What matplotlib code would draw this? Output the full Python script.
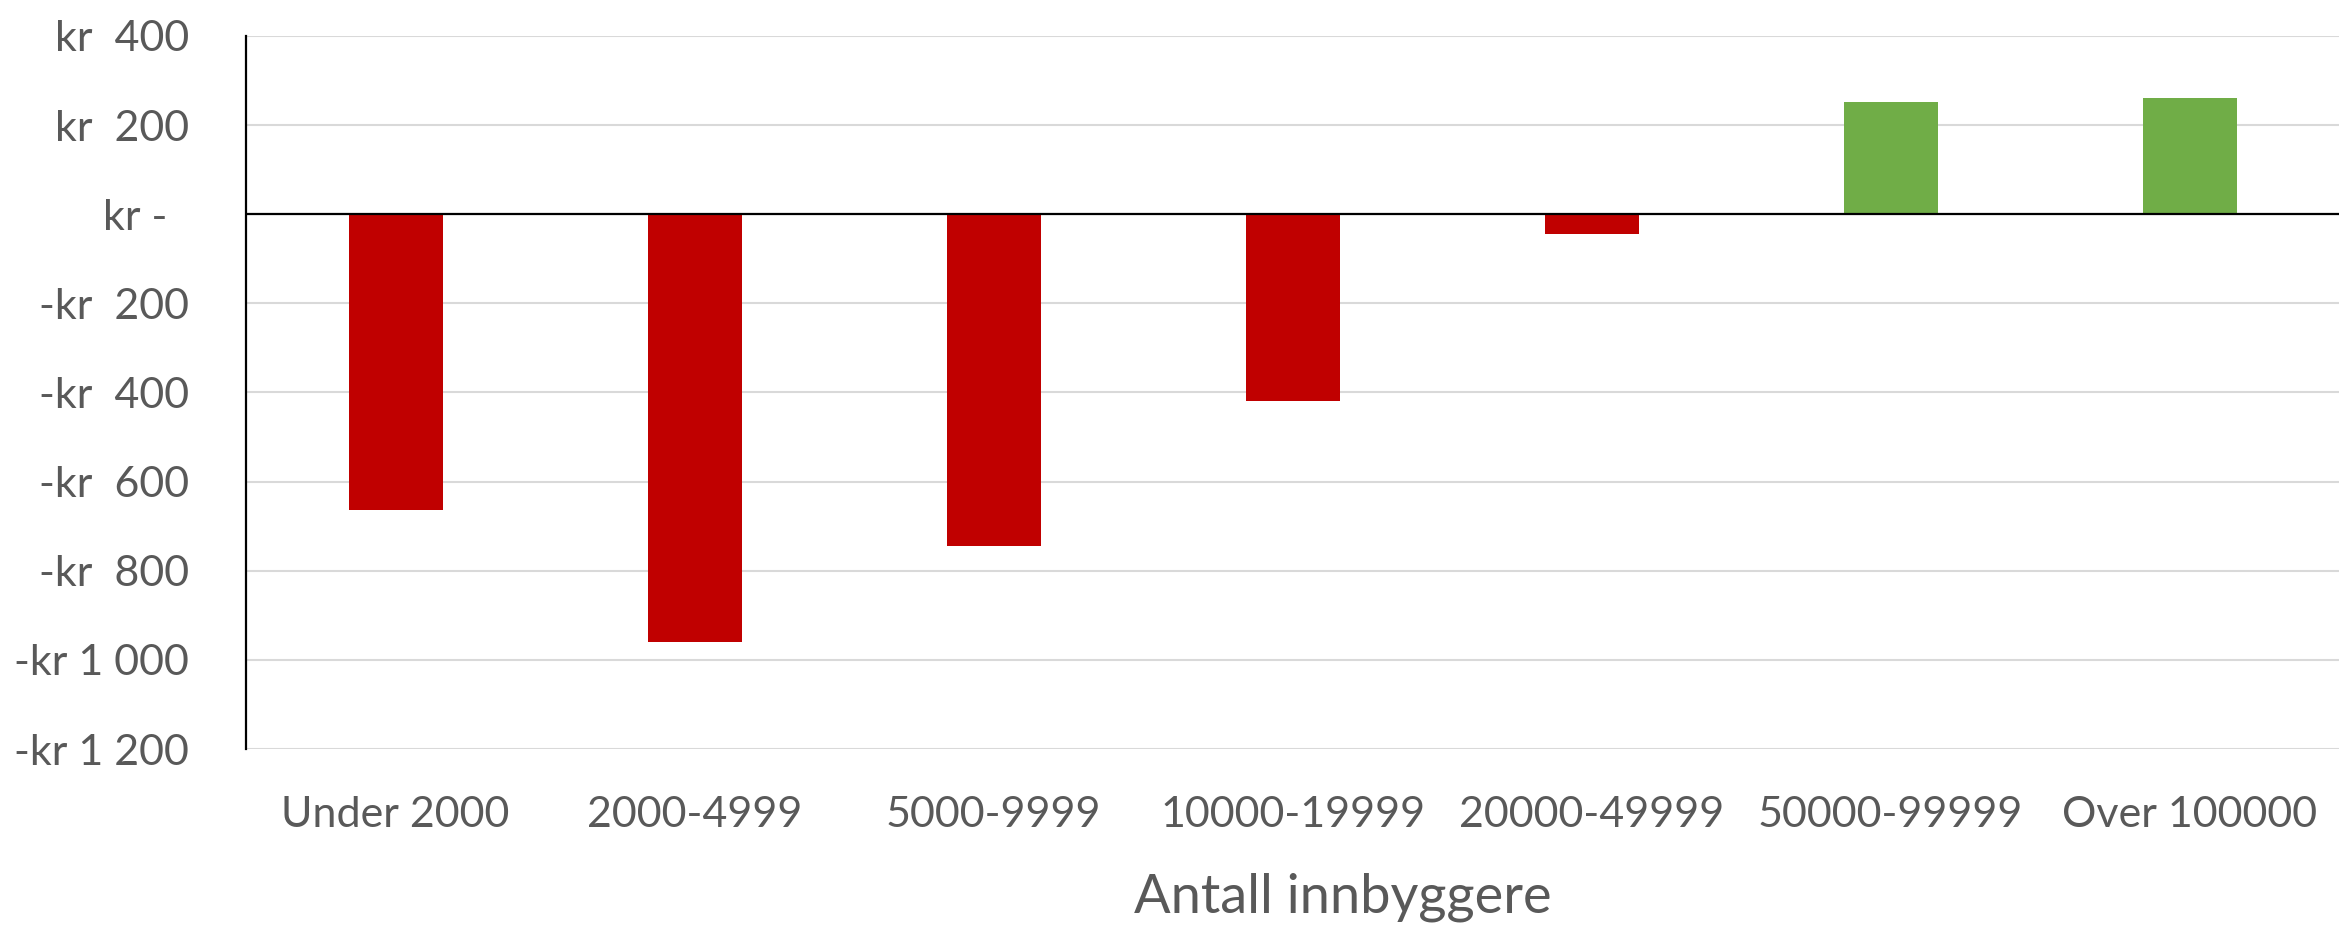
import matplotlib.pyplot as plt
from matplotlib.ticker import FixedLocator, FixedFormatter

# Data
categories = ["Under 2000", "2000-4999", "5000-9999", "10000-19999",
              "20000-49999", "50000-99999", "Over 100000"]
values = [-663, -959, -744, -420, -45, 251, 260]

y_ticks = [400, 200, 0, -200, -400, -600, -800, -1000, -1200]
y_tick_labels = ["kr  400", "kr  200", "kr -  ", "-kr  200", "-kr  400",
                 "-kr  600", "-kr  800", "-kr 1 000", "-kr 1 200"]

red = "#C00000"
green = "#70AD47"
text_col = "#595959"

plt.rcParams['font.family'] = ['Lato', 'DejaVu Sans']

fig = plt.figure(figsize=(23.48, 9.27), dpi=100)
ax = fig.add_axes([0.1048, 0.192, 0.8914, 0.7692])

colors = [green if v >= 0 else red for v in values]
ax.bar(range(len(categories)), values, width=0.314, color=colors, zorder=3)

ax.set_xlim(-0.5, len(categories) - 0.5)
ax.set_ylim(-1200, 400)

# gridlines and zero line
ax.yaxis.set_major_locator(FixedLocator(y_ticks))
ax.yaxis.set_major_formatter(FixedFormatter(y_tick_labels))
ax.grid(axis='y', color='#d9d9d9', linewidth=1.5, zorder=0)
ax.axhline(0, color='black', linewidth=1.6, zorder=4)

for s in ['top', 'right', 'bottom']:
    ax.spines[s].set_visible(False)
ax.spines['left'].set_color('black')
ax.spines['left'].set_linewidth(1.6)

ax.set_xticks(range(len(categories)))
ax.set_xticklabels(categories)

ax.tick_params(axis='y', length=0, pad=41, labelsize=31, labelcolor=text_col)
ax.tick_params(axis='x', length=0, pad=34, labelsize=31, labelcolor=text_col)

ax.set_xlabel("Antall innbyggere", fontsize=39, color=text_col, va='center')
ax.xaxis.set_label_coords(0.524, -0.2076)

fig.savefig("out.png", dpi=100, facecolor='white')
